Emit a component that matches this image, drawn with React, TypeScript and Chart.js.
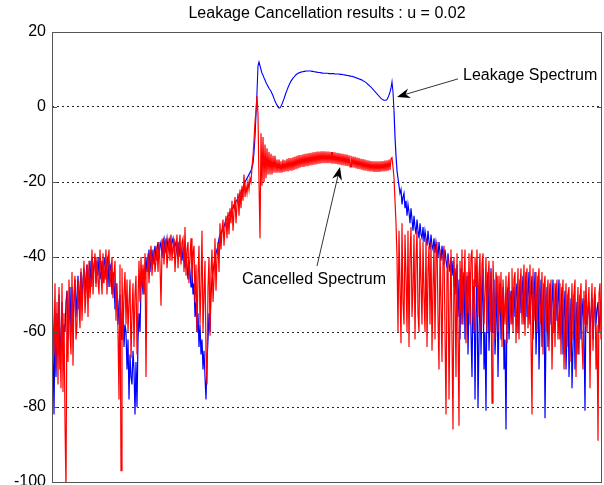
import { useEffect, useRef } from 'react';
import { Chart, registerables } from 'chart.js';

Chart.register(...registerables);

const TITLE = 'Leakage Cancellation results : u = 0.02';
const Y_MIN = -100;
const Y_MAX = 20;
const Y_STEP = 20;

// Cancelled spectrum (red), one sample per frequency bin
const CANCELLED = [
  -45, -58, -66, -47, -70, -52, -74, -48, -62, -75,
  -47, -76, -55, -84, -102, -49, -68, -46, -60, -66,
  -44, -69, -50, -45, -62, -58, -46, -53, -59, -43,
  -57, -48, -41, -55, -50, -42, -56, -41, -51, -46,
  -38, -50, -43, -39, -48, -40, -46, -50, -38, -44,
  -50, -39, -47, -43, -38, -50, -41, -38, -48, -44,
  -40, -51, -45, -41, -57, -47, -60, -78, -42, -97,
  -43, -62, -50, -44, -58, -46, -60, -52, -46, -67,
  -55, -47, -64, -50, -45, -66, -52, -41, -52, -40,
  -48, -42, -50, -39, -72, -44, -39, -47, -41, -37,
  -45, -40, -38, -44, -41, -37, -44, -36, -42, -53,
  -38, -35, -42, -37, -35, -43, -39, -35, -41, -34,
  -41, -37, -35, -44, -38, -34, -43, -37, -34, -42,
  -36, -35, -44, -32, -45, -38, -36, -47, -40, -35,
  -46, -39, -37, -52, -42, -60, -45, -37, -58, -48,
  -33, -60, -50, -41, -66, -74, -48, -40, -61, -44,
  -38, -52, -46, -35, -49, -40, -36, -44, -31, -38,
  -33, -30, -37, -32, -29, -35, -28, -34, -27, -31,
  -25, -33, -28, -24, -31, -26, -23, -29, -22, -27,
  -21, -25, -18, -24, -21, -23, -20, -22, -19, -20,
  -16, -13, -9, -4, -1, 3, -2, -20, -35, -7,
  -21, -8, -20, -10, -19, -11, -18, -12, -18, -12.5,
  -18, -13, -17.5, -13, -17.5, -14, -17.5, -14, -17.5, -14.5,
  -17.5, -14, -17.3, -14.2, -17.2, -13.8, -17.2, -13.6, -17, -13.6,
  -17, -13.4, -16.8, -13.2, -16.6, -13, -16.4, -12.8, -16.2, -12.8,
  -16, -12.6, -16, -12.5, -15.8, -12.4, -15.8, -12.3, -15.6, -12.2,
  -15.5, -12.1, -15.4, -12, -15.3, -11.9, -15.2, -11.9, -15.1, -11.8,
  -15, -11.8, -15, -11.8, -15, -11.9, -15, -11.9, -15, -12,
  -15.1, -12, -15.1, -12.1, -15.2, -12.2, -15.3, -12.3, -15.4, -12.4,
  -15.5, -12.5, -15.6, -12.6, -15.7, -12.7, -15.8, -12.9, -16, -13,
  -16.1, -13.2, -16.2, -13.3, -16.4, -13.5, -16.5, -13.6, -16.6, -13.8,
  -16.8, -13.9, -16.9, -14, -17, -14.2, -17.1, -14.3, -17.2, -14.4,
  -17.2, -14.5, -17.3, -14.5, -17.3, -14.5, -17.3, -14.5, -17.3, -14.5,
  -17.2, -14.4, -17.2, -14.3, -17.1, -14.2, -17, -14, -16.8, -13.8,
  -13.5, -16, -19, -25, -31, -40, -60, -33, -48, -63,
  -31, -52, -58, -34, -45, -60, -33, -64, -40, -32,
  -56, -48, -34, -62, -41, -33, -55, -60, -35, -47,
  -58, -36, -50, -60, -35, -64, -44, -37, -58, -36,
  -65, -48, -37, -62, -40, -36, -56, -70, -38, -52,
  -68, -40, -37, -60, -82, -44, -40, -78, -55, -38,
  -62, -86, -40, -50, -72, -39, -60, -85, -41, -55,
  -38, -58, -47, -38, -63, -44, -55, -39, -58, -40,
  -38, -55, -60, -40, -48, -38, -56, -45, -39, -60,
  -42, -39, -58, -50, -40, -60, -46, -41, -60, -44,
  -79, -41, -50, -62, -44, -48, -60, -45, -55, -44,
  -64, -46, -52, -58, -45, -63, -48, -44, -58, -50,
  -43, -60, -46, -44, -63, -52, -43, -62, -48, -43,
  -58, -50, -42, -61, -47, -43, -59, -52, -42, -62,
  -82, -43, -57, -51, -44, -60, -47, -43, -58, -53,
  -44, -66, -48, -45, -60, -50, -46, -65, -52, -46,
  -70, -55, -47, -64, -50, -46, -62, -55, -47, -66,
  -52, -46, -70, -58, -47, -64, -50, -48, -68, -56,
  -47, -62, -50, -46, -72, -55, -48, -66, -52, -47,
  -63, -70, -49, -58, -46, -60, -53, -48, -75, -55,
  -47, -65, -52, -48, -70, -58, -89, -50, -47, -62,
  -48,
];

// Leakage spectrum (blue)
const LEAKAGE = [
  -50, -64, -82, -58, -72, -55, -66, -50, -70, -60,
  -52, -65, -58, -60, -52, -49, -62, -55, -48, -60,
  -48, -58, -52, -46, -56, -50, -45, -54, -48, -44,
  -52, -46, -43, -50, -45, -42, -50, -44, -41, -48,
  -40, -46, -42, -40, -47, -41, -45, -40, -44, -46,
  -41, -47, -42, -40, -46, -41, -40, -48, -43, -42,
  -50, -44, -46, -54, -47, -50, -58, -52, -50, -62,
  -55, -52, -64, -58, -60, -70, -62, -78, -66, -72,
  -74, -65, -70, -82, -68, -80, -62, -55, -60, -48,
  -44, -50, -43, -46, -40, -44, -42, -38, -44, -40,
  -38, -42, -39, -37, -41, -38, -36, -40, -37, -36,
  -40, -36, -35, -39, -37, -35, -38, -36, -35, -38,
  -36, -35, -38, -36, -37, -39, -36, -40, -37, -38,
  -41, -38, -40, -43, -39, -42, -46, -41, -44, -48,
  -43, -50, -47, -56, -52, -60, -55, -64, -58, -66,
  -62, -70, -65, -72, -78, -68, -62, -55, -60, -50,
  -46, -44, -42, -40, -39, -38, -37, -35, -34, -34,
  -33, -32, -32, -31, -30, -30, -29, -29, -28, -28,
  -27, -27, -26, -26, -25, -25, -24, -24, -23, -23,
  -22, -22, -21, -20, -19.5, -19, -18.5, -18, -17.5, -17,
  -16, -15, -12, -8, -2, 4, 11, 12, 11, 10,
  9, 8.5, 7.8, 7.2, 6.5, 6, 5.5, 5, 4.6, 4.2,
  3.6, 3, 2.3, 1.6, 1, 0.5, 0, -0.3, -0.2, 0.2,
  0.8, 1.5, 2.2, 3, 3.8, 4.5, 5.2, 5.8, 6.4, 6.9,
  7.3, 7.7, 8, 8.3, 8.6, 8.8, 9, 9.1, 9.2, 9.3,
  9.4, 9.4, 9.5, 9.5, 9.6, 9.6, 9.6, 9.6, 9.6, 9.6,
  9.5, 9.5, 9.4, 9.4, 9.3, 9.3, 9.2, 9.2, 9.2, 9.1,
  9.1, 9.0, 9.0, 9.0, 9.0, 9.0, 9.0, 8.9, 8.9, 8.9,
  8.9, 8.9, 8.9, 8.8, 8.8, 8.8, 8.8, 8.8, 8.7, 8.7,
  8.7, 8.6, 8.6, 8.5, 8.5, 8.4, 8.4, 8.3, 8.3, 8.2,
  8.2, 8.1, 8.0, 7.9, 7.8, 7.7, 7.6, 7.5, 7.4, 7.3,
  7.2, 7.0, 6.9, 6.7, 6.5, 6.3, 6.0, 5.8, 5.5, 5.3,
  5.0, 4.7, 4.4, 4.1, 3.8, 3.5, 3.2, 2.9, 2.6, 2.3,
  2.1, 1.9, 1.8, 1.8, 1.8, 2.0, 2.5, 3.2, 4, 5,
  6.7, 4, -1, -8, -13, -17, -19, -21, -23, -22,
  -26, -24, -23, -27, -25, -29, -26, -28, -31, -27,
  -30, -33, -29, -32, -34, -30, -33, -35, -31, -34,
  -35, -32, -36, -33, -35, -37, -33, -36, -38, -34,
  -37, -38, -35, -39, -36, -38, -40, -36, -39, -41,
  -37, -40, -42, -38, -41, -43, -39, -42, -44, -40,
  -45, -41, -48, -43, -50, -42, -56, -46, -62, -43,
  -58, -48, -44, -62, -50, -45, -66, -52, -44, -60,
  -72, -48, -46, -78, -55, -44, -80, -62, -45, -66,
  -52, -43, -70, -60, -81, -48, -44, -65, -55, -43,
  -60, -50, -46, -66, -58, -45, -72, -56, -47, -62,
  -55, -48, -70, -62, -86, -50, -48, -62, -54, -49,
  -58, -52, -48, -56, -50, -47, -60, -53, -46, -55,
  -50, -45, -58, -52, -44, -56, -50, -44, -58, -50,
  -45, -62, -52, -44, -66, -56, -45, -70, -58, -46,
  -64, -55, -47, -83, -60, -48, -64, -55, -47, -58,
  -52, -46, -60, -54, -47, -57, -52, -46, -62, -55,
  -48, -66, -56, -49, -70, -60, -50, -72, -62, -51,
  -75, -64, -50, -70, -58, -52, -66, -60, -50, -62,
  -56, -51, -60, -81, -50, -58, -54, -52, -60, -55,
  -51, -62, -56, -50, -58, -54, -52, -60, -55, -52,
  -53,
];

// Bins of the smooth pass band of the leakage spectrum (drawn thinner)
const PASSBAND_BINS = [202, 342];

// Annotation texts with arrow tip / tail / label anchor in data units [bin, dB]
const ANNOTATION_TEXTS = ['Leakage Spectrum', 'Cancelled Spectrum'];
const ANNOTATION_TIPS = [[345, 2.7], [288, -16]];
const ANNOTATION_TAILS = [[406, 7.5], [265, -42.4]];
const ANNOTATION_LABELS = [[411, 8.3], [262, -46.1]];
const ANNOTATION_ALIGN = ['left', 'center'];

const FONT = 'Liberation Sans, Arial, Helvetica, sans-serif';

const framePlugin = {
  id: 'frame',
  afterDatasetsDraw(chart: any) {
    const { ctx, chartArea } = chart;
    const { left, right, top, bottom } = chartArea;
    const yScale = chart.scales.y;
    ctx.save();
    ctx.strokeStyle = '#555';
    ctx.lineWidth = 1;
    ctx.setLineDash([]);
    ctx.beginPath();
    ctx.rect(Math.round(left) + 0.5, Math.round(top) + 0.5, Math.round(right - left) - 1, Math.round(bottom - top));
    ctx.stroke();
    ctx.beginPath();
    for (const t of yScale.ticks) {
      const y = Math.round(yScale.getPixelForValue(t.value)) + 0.5;
      ctx.moveTo(left, y);
      ctx.lineTo(left + 5, y);
      ctx.moveTo(right - 5, y);
      ctx.lineTo(right, y);
    }
    ctx.stroke();
    ctx.restore();
  },
};

const annotationPlugin = {
  id: 'arrows',
  afterDraw(chart: any) {
    const { ctx } = chart;
    const xs = chart.scales.x;
    const ys = chart.scales.y;
    ctx.save();
    ANNOTATION_TEXTS.forEach((text, i) => {
      const tx = xs.getPixelForValue(ANNOTATION_TIPS[i][0]);
      const ty = ys.getPixelForValue(ANNOTATION_TIPS[i][1]);
      const sx = xs.getPixelForValue(ANNOTATION_TAILS[i][0]);
      const sy = ys.getPixelForValue(ANNOTATION_TAILS[i][1]);
      const dx = tx - sx;
      const dy = ty - sy;
      const len = Math.hypot(dx, dy);
      const ux = dx / len;
      const uy = dy / len;
      const nx = -uy;
      const ny = ux;
      const L = 13;
      const W = 5;
      const notch = 9;
      const bx = tx - ux * L;
      const by = ty - uy * L;
      const mx = tx - ux * notch;
      const my = ty - uy * notch;
      ctx.strokeStyle = '#333';
      ctx.lineWidth = 1;
      ctx.beginPath();
      ctx.moveTo(sx, sy);
      ctx.lineTo(mx, my);
      ctx.stroke();
      ctx.fillStyle = '#000';
      ctx.beginPath();
      ctx.moveTo(tx, ty);
      ctx.lineTo(bx + nx * W, by + ny * W);
      ctx.lineTo(mx, my);
      ctx.lineTo(bx - nx * W, by - ny * W);
      ctx.closePath();
      ctx.fill();
      ctx.font = `16px ${FONT}`;
      ctx.fillStyle = '#000';
      ctx.textAlign = ANNOTATION_ALIGN[i] as CanvasTextAlign;
      ctx.textBaseline = 'middle';
      ctx.fillText(text, xs.getPixelForValue(ANNOTATION_LABELS[i][0]), ys.getPixelForValue(ANNOTATION_LABELS[i][1]));
    });
    ctx.restore();
  },
};

export default function App() {
  const canvasRef = useRef<HTMLCanvasElement | null>(null);

  useEffect(() => {
    const canvas = canvasRef.current;
    if (!canvas) return;
    const toPoints = (arr: number[]) => arr.map((v, i) => ({ x: i, y: v }));
    const inPassband = (i: number) => i >= PASSBAND_BINS[0] && i < PASSBAND_BINS[1];
    const chart = new Chart(canvas, {
      type: 'line',
      data: {
        datasets: [
          {
            label: 'Cancelled Spectrum',
            data: toPoints(CANCELLED),
            borderColor: 'rgb(255,0,0)',
            borderWidth: 1.2,
            pointRadius: 0,
            tension: 0,
            fill: false,
          },
          {
            label: 'Leakage Spectrum',
            data: toPoints(LEAKAGE),
            borderColor: 'rgb(0,0,255)',
            borderWidth: 1.2,
            segment: {
              borderWidth: (c: any) => (inPassband(c.p0DataIndex) ? 1.1 : 1.2),
            },
            pointRadius: 0,
            tension: 0,
            fill: false,
          },
        ],
      },
      options: {
        animation: false,
        responsive: false,
        devicePixelRatio: 1,
        layout: { padding: { left: 0, right: 2, top: 0, bottom: 18 } },
        plugins: {
          legend: { display: false },
          tooltip: { enabled: false },
          title: {
            display: true,
            text: TITLE,
            color: '#000',
            fullSize: false,
            font: { family: FONT, size: 16, weight: 'normal' },
            padding: { top: 4.4, bottom: 8.4 },
          },
        },
        scales: {
          x: {
            type: 'linear',
            display: false,
            min: 0,
            max: CANCELLED.length - 1,
          },
          y: {
            type: 'linear',
            min: Y_MIN,
            max: Y_MAX,
            ticks: {
              stepSize: Y_STEP,
              color: '#000',
              padding: 6,
              font: { family: FONT, size: 16 },
            },
            grid: {
              color: 'rgba(0,0,0,0.85)',
              lineWidth: 1,
              drawTicks: false,
            },
            border: { display: false, dash: [2, 3] },
            afterFit: (scale: any) => {
              scale.width = 52;
            },
          },
        },
      },
      plugins: [framePlugin, annotationPlugin],
    });
    return () => chart.destroy();
  }, []);

  return (
    <div style={{ position: 'fixed', left: 0, top: 0, width: 604, height: 500 }}>
      <canvas ref={canvasRef} width={604} height={500} style={{ display: 'block' }} />
    </div>
  );
}
